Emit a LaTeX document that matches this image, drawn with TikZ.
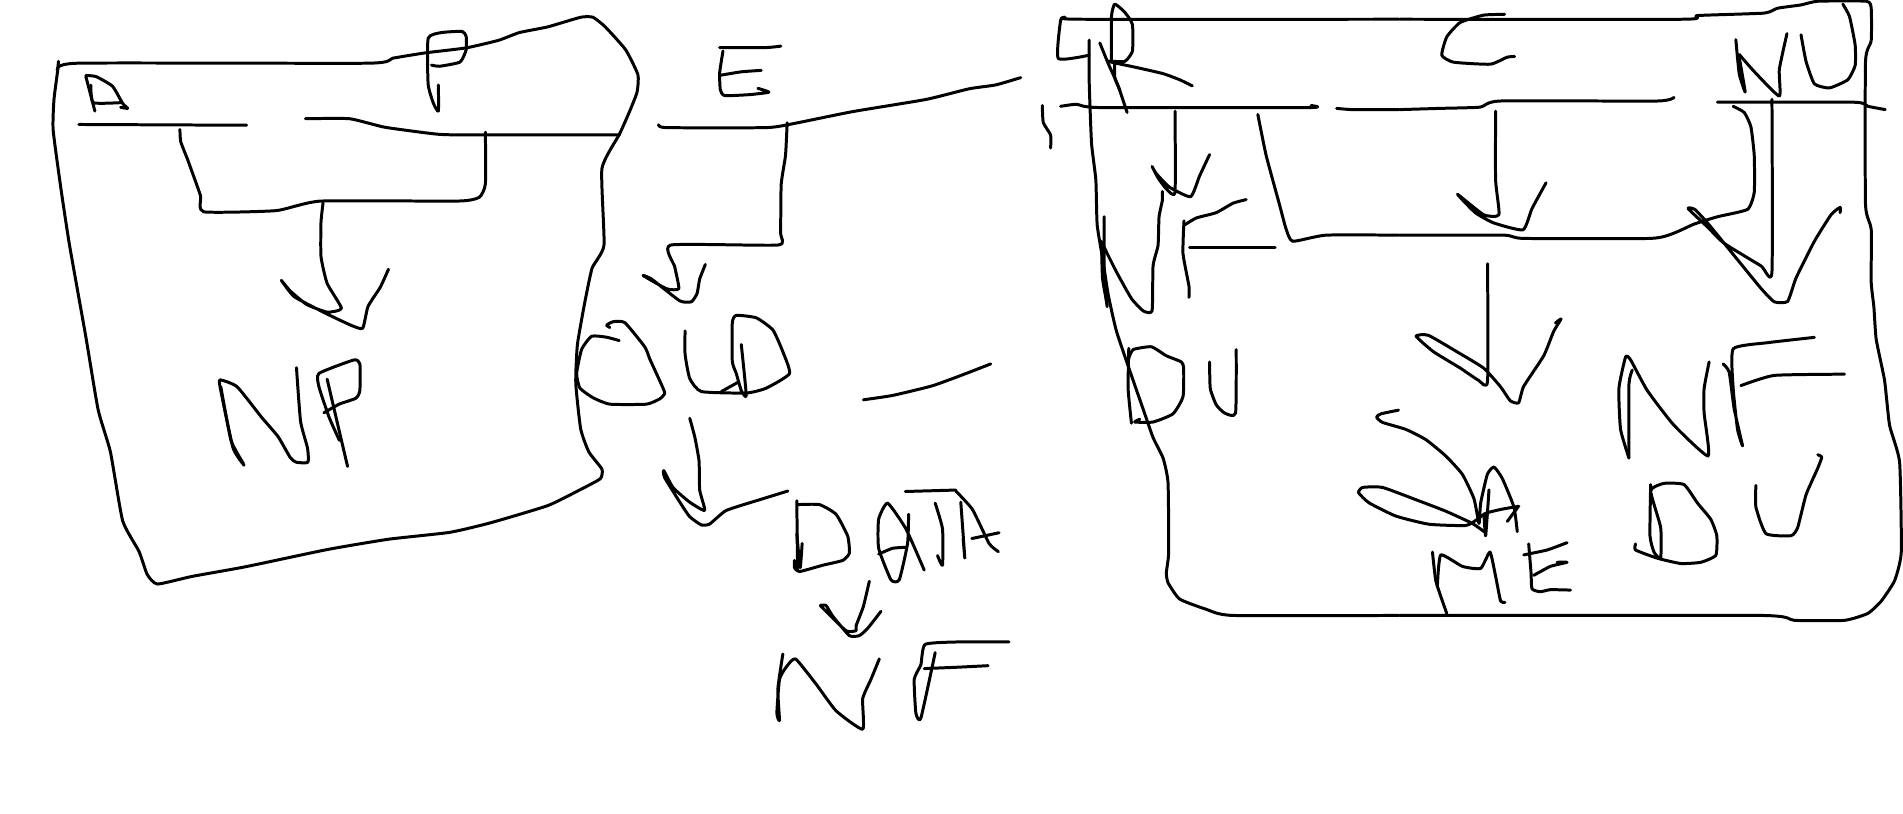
\documentclass[tikz,border=0pt]{standalone}
\tikzset{
  ink/.style={draw=black,line width=0.85pt,line cap=round,line join=round},
  za/.style={x=0.004082cm,y=-0.003827cm},
  zb/.style={shift={(5.6cm,0cm)},x=0.003333cm,y=-0.004847cm},
  zc/.style={shift={(10.2cm,0cm)},x=0.003333cm,y=-0.004082cm},
  zd/.style={shift={(14cm,0cm)},x=0.003346cm,y=-0.004082cm}
}
\newcommand\pen[1]{\draw[ink] plot[smooth,tension=0.3] coordinates {#1};}
\begin{document}
\begin{tikzpicture}
\useasboundingbox (0,0) rectangle (19.03,-8.13);
\begin{scope}[za]
\pen{(143,160)(141,185)}
\pen{(141,185)(190,165)(900,165)(960,152)(1040,138)(1140,125)(1220,105)(1270,85)(1340,70)(1420,45)(1450,45)(1480,70)(1530,130)(1560,195)(1558,240)(1540,290)(1515,350)(1472,440)(1477,640)(1448,700)(1430,790)(1412,900)(1408,1000)(1420,1120)(1440,1180)(1472,1225)(1468,1250)(1420,1278)(1340,1320)(1200,1365)(1100,1390)(950,1408)(800,1435)(600,1480)(470,1505)(385,1525)(360,1500)(340,1440)(300,1360)(270,1180)(240,1070)(210,880)(170,640)(150,500)(130,340)(132,260)(141,185)}
\pen{(210,200)(232,290)}
\pen{(210,197)(235,200)(275,225)(300,270)(312,283)(295,280)}
\pen{(222,222)(228,268)(295,268)}
\pen{(193,325)(603,327)}
\pen{(747,310)(855,310)(940,332)(1050,348)(1110,352)(1515,352)}
\pen{(1187,345)(1187,480)(1172,515)(1120,525)(785,525)(675,550)(498,553)(490,510)(460,420)(442,370)(440,338)}
\pen{(790,530)(785,580)(785,670)(800,740)(835,805)(800,815)(750,795)(710,760)(688,732)(720,775)(800,820)(860,850)(887,857)(900,800)(930,750)(950,703)}
\pen{(1072,222)(1072,290)(1060,270)(1047,220)(1047,100)(1080,85)(1130,82)(1140,95)(1140,130)(1125,162)(1075,173)(1055,170)}
\pen{(597,1215)(570,1170)(540,1020)(538,992)(580,1010)(640,1090)(680,1140)(710,1195)(725,1207)(753,1207)(752,1170)(735,1100)(725,960)}
\pen{(540,1010)(565,1150)(595,1210)}
\pen{(850,1218)(835,1150)(800,990)}
\pen{(792,1078)(830,1055)(870,1040)(880,1020)(880,950)(865,940)(780,975)(780,1010)(805,1090)(830,1150)}
\end{scope}
\begin{scope}[zb]
\pen{(480,98)(620,98)(664,95)}
\pen{(490,105)(480,150)(482,185)(495,197)(570,195)(628,190)(595,182)}
\pen{(483,155)(545,148)(605,145)}
\pen{(296,257)(320,263)(620,263)(700,255)(880,230)(1100,205)(1230,183)(1310,175)(1385,160)}
\pen{(683,253)(678,320)(665,380)(663,480)(655,505)(333,505)(345,550)(357,595)(320,595)(250,568)(275,575)(360,620)(395,622)(412,605)(420,575)(437,545)}
\pen{(178,702)(140,695)(95,693)(65,720)(50,770)(60,800)(100,820)(150,833)(260,833)(300,822)(315,810)(300,785)(270,740)(255,715)(195,665)(160,663)(140,670)(150,675)}
\pen{(376,682)(376,730)(390,780)(425,807)(560,810)(620,800)(690,770)(670,725)(640,680)(590,655)(530,650)(518,665)(518,745)(530,770)(545,805)(560,815)(545,710)}
\pen{(485,807)(535,788)}
\pen{(390,862)(405,900)(418,950)(420,1010)(435,1052)(390,1035)(340,1005)(312,970)(315,985)(365,1040)(390,1065)(425,1082)(450,1080)(500,1052)(600,1030)(685,1012)}
\pen{(912,824)(1000,815)(1120,795)(1220,770)(1295,750)}
\pen{(712,1032)(714,1175)}
\pen{(705,1155)(705,1170)(720,1178)(790,1165)(850,1155)(870,1140)(865,1105)(830,1060)(780,1040)(715,1040)}
\pen{(712,1100)(722,1170)(728,1120)}
\pen{(1095,1175)(1040,1090)(985,1037)(958,1070)(958,1130)(995,1195)(1020,1195)(1045,1120)(1048,1060)}
\pen{(958,1142)(1000,1130)(1040,1128)}
\pen{(1038,1013)(1190,1010)}
\pen{(1128,1037)(1150,1090)(1150,1165)(1135,1145)}
\pen{(1205,1035)(1217,1150)(1212,1110)}
\pen{(1190,1012)(1240,1050)(1290,1120)(1318,1137)}
\pen{(1238,1110)(1320,1098)}
\pen{(930,1198)(912,1250)(890,1290)(890,1300)(860,1300)(800,1260)(783,1248)(800,1248)(820,1270)(870,1310)(900,1310)(925,1295)(965,1260)}
\pen{(670,1348)(655,1420)(660,1485)(652,1470)(660,1400)(680,1375)(708,1358)(770,1410)(830,1465)(910,1503)(910,1440)(935,1400)(960,1358)}
\pen{(1128,1345)(1085,1480)(1070,1470)(1065,1400)(1085,1370)(1098,1328)(1200,1323)(1350,1323)}
\pen{(1095,1378)(1200,1375)(1287,1372)}
\end{scope}
\begin{scope}[zc]
\pen{(208,135)(115,143)(122,50)(135,42)(175,47)(1140,47)}
\pen{(1140,1505)(640,1505)(560,1490)(480,1465)(445,1425)(440,1400)(447,1350)(445,1180)(430,1120)(400,1070)(370,1000)(340,930)(290,810)(265,720)(250,640)(232,550)(228,440)(215,350)(208,200)(208,98)}
\pen{(122,260)(170,255)(240,263)(870,263)(875,258)}
\pen{(952,265)(1000,268)(1140,268)}
\pen{(275,145)(275,40)(285,10)(315,30)(338,60)(338,125)(315,150)(265,150)(350,165)(430,180)(480,195)(518,210)}
\pen{(240,105)(265,155)(295,210)(322,275)}
\pen{(285,150)(285,190)(300,220)}
\pen{(466,272)(466,470)(440,462)(415,435)(397,407)(410,425)(450,458)(513,481)(540,430)(570,378)}
\pen{(253,530)(253,680)(262,750)}
\pen{(245,590)(248,680)(262,745)}
\pen{(250,600)(290,665)(335,730)(370,760)(397,760)(400,650)(415,600)(418,530)(428,490)(428,468)}
\pen{(493,540)(490,620)(508,700)(508,727)}
\pen{(495,550)(530,533)(590,520)(640,497)(680,488)}
\pen{(510,605)(767,605)}
\pen{(715,280)(740,380)(780,500)(800,560)(820,590)(920,575)(1140,575)}
\pen{(327,852)(325,950)(335,1035)}
\pen{(325,880)(340,855)(395,848)(440,870)(485,885)(492,900)(490,970)(460,1012)(400,1032)(345,1032)(360,1025)}
\pen{(570,885)(572,950)(590,990)(615,1010)(648,1010)(650,855)}
\pen{(1138,1003)(1085,1012)(1072,1020)(1090,1033)(1160,1050)(1220,1075)(1280,1115)(1330,1160)(1365,1220)(1380,1280)(1385,1230)(1405,1160)(1425,1142)(1450,1170)(1485,1240)(1495,1300)}
\pen{(1395,1300)(1360,1280)(1280,1250)(1200,1225)(1090,1192)(1030,1192)(1018,1205)(1050,1230)(1130,1262)(1230,1282)(1340,1285)(1375,1270)(1400,1255)(1450,1245)(1500,1238)}
\pen{(1465,1275)(1497,1240)}
\pen{(1410,1198)(1400,1310)(1395,1260)}
\pen{(1240,1350)(1250,1420)(1270,1470)(1283,1500)}
\pen{(1255,1430)(1265,1357)(1330,1385)(1385,1390)(1413,1350)(1430,1410)(1445,1470)(1458,1473)}
\pen{(67,258)(70,300)(92,330)(92,362)}
\end{scope}
\begin{scope}[zd]
\pen{(0,47)(850,47)(890,38)(1090,32)(1130,20)(1200,12)(1250,3)(1395,3)(1410,20)(1410,100)(1393,150)(1393,500)(1410,560)(1410,690)(1418,750)(1425,830)(1450,930)(1465,1040)(1495,1130)(1500,1350)(1480,1420)(1440,1470)(1400,1500)(1330,1517)(1180,1517)(1080,1505)(0,1505)}
\pen{(0,268)(120,265)(240,262)(300,247)(770,247)(820,238)}
\pen{(0,575)(310,575)(370,583)(750,583)(820,570)(880,548)(950,530)(1040,512)(1060,470)(1060,380)(1050,310)(1030,275)(997,260)}
\pen{(313,35)(250,37)(180,55)(140,90)(125,135)(160,152)(270,157)(320,140)(343,138)}
\pen{(286,272)(286,440)(296,525)(250,525)(172,475)(225,520)(280,545)(368,562)(395,510)(437,447)}
\pen{(262,645)(262,932)(235,930)(180,900)(100,860)(48,822)(85,820)(170,860)(250,900)(300,945)(330,980)(355,985)(370,945)(430,870)(460,810)(482,780)(465,790)}
\pen{(1005,97)(1015,180)(1033,225)(1015,140)}
\pen{(1015,133)(1060,175)(1135,235)(1135,170)(1158,82)}
\pen{(1200,85)(1215,150)(1240,205)(1285,215)(1340,195)(1362,160)(1362,110)(1345,40)(1325,10)}
\pen{(950,250)(1360,250)(1400,260)(1452,268)}
\pen{(1113,243)(1113,665)(1080,650)(970,595)(920,555)(862,510)(882,512)(920,545)(1000,625)(1080,705)(1120,738)(1160,737)(1185,680)(1240,590)(1290,525)(1317,507)(1317,520)}
\pen{(685,1120)(685,940)(695,905)}
\pen{(685,1120)(660,1050)(655,950)(675,873)(690,880)(740,955)(820,1040)(922,1115)(910,1010)(910,950)(925,885)}
\pen{(967,890)(985,910)(1000,1000)(1025,1090)(1010,1050)(997,950)(997,853)(1100,838)(1240,825)}
\pen{(1020,943)(1120,918)(1330,915)}
\pen{(750,1185)(748,1310)(760,1350)(780,1365)(780,1290)(750,1200)(790,1182)(850,1185)(890,1230)(930,1270)(948,1310)(945,1358)(900,1375)(840,1378)(770,1365)(705,1345)(705,1330)}
\pen{(1065,1187)(1065,1240)(1095,1305)(1170,1310)(1190,1290)(1215,1210)(1250,1145)(1262,1118)(1250,1112)}
\pen{(385,1330)(392,1400)(395,1440)(420,1447)(450,1442)(510,1443)}
\pen{(370,1357)(440,1345)(500,1327)}
\pen{(400,1407)(450,1385)(500,1375)(470,1375)}
\end{scope}
\end{tikzpicture}
\end{document}
